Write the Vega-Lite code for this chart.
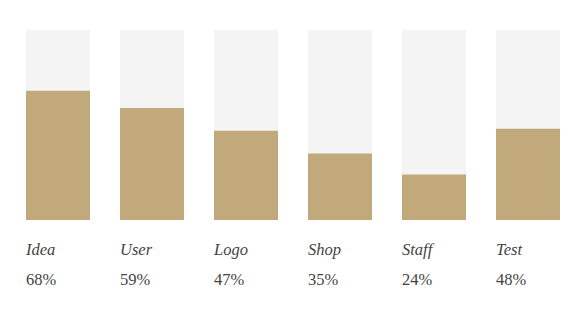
{
  "$schema": "https://vega.github.io/schema/vega-lite/v6.json",
  "width": 534,
  "height": 190,
  "padding": {"left": 26, "right": 24, "top": 30, "bottom": 93},
  "autosize": {"type": "none"},
  "background": "#ffffff",
  "config": {"view": {"stroke": null}},
  "data": {
    "values": [
      {"stage": "Idea", "share": 0.68},
      {"stage": "User", "share": 0.59},
      {"stage": "Logo", "share": 0.47},
      {"stage": "Shop", "share": 0.35},
      {"stage": "Staff", "share": 0.24},
      {"stage": "Test", "share": 0.48}
    ]
  },
  "encoding": {
    "x": {
      "field": "stage",
      "type": "nominal",
      "sort": null,
      "scale": {"paddingInner": 0.3191, "paddingOuter": 0},
      "axis": {
        "title": null,
        "domain": false,
        "ticks": false,
        "labelAngle": 0,
        "labelAlign": "left",
        "labelOffset": -32,
        "labelBaseline": "alphabetic",
        "labelPadding": 34,
        "labelFont": "Liberation Serif",
        "labelFontStyle": "italic",
        "labelFontSize": 16.5,
        "labelColor": "#444444"
      }
    }
  },
  "layer": [
    {
      "mark": {"type": "bar", "color": "#f4f4f4"},
      "encoding": {
        "y": {"datum": 1, "type": "quantitative", "scale": {"domain": [0, 1]}, "axis": null},
        "y2": {"datum": 0}
      }
    },
    {
      "mark": {"type": "bar", "color": "#c1a97c"},
      "encoding": {
        "y": {"field": "share", "type": "quantitative", "scale": {"domain": [0, 1]}, "axis": null}
      }
    },
    {
      "mark": {
        "type": "text",
        "align": "left",
        "baseline": "alphabetic",
        "font": "Liberation Serif",
        "fontSize": 16.5,
        "color": "#444444"
      },
      "encoding": {
        "x": {"field": "stage", "type": "nominal", "sort": null, "bandPosition": 0},
        "y": {"datum": -0.342, "type": "quantitative"},
        "text": {"field": "share", "type": "quantitative", "format": ".0%"}
      }
    }
  ]
}
